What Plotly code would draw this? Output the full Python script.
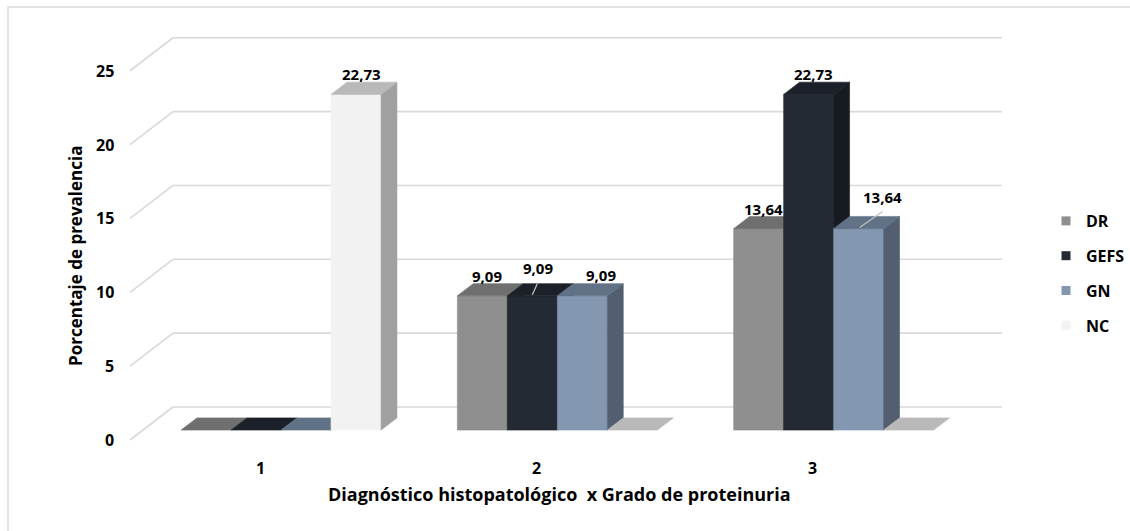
import plotly.graph_objects as go

# ---- data ----
categories = ["1", "2", "3"]
series_names = ["DR", "GEFS", "GN", "NC"]
dr = [0, 9.09, 13.64]
gefs = [0, 9.09, 22.73]
gn = [0, 9.09, 13.64]
nc = [22.73, 0, 0]
y_ticks = [0, 5, 10, 15, 20, 25]

values = [dr, gefs, gn, nc]

# face colours per series: front, top, side
front_colors = ["#8f8f8f", "#232a34", "#8497b0", "#f2f2f2"]
top_colors = ["#6f6f6f", "#1b2029", "#617286", "#b9b9b9"]
side_colors = ["#6b6b6b", "#161b22", "#535f70", "#a0a0a0"]

# ---- oblique 3D geometry (pixels -> axis units) ----
W, H = 1130, 531
FLOOR_LEFT_PX = 130      # left edge of the floor front
FLOOR_BASE_PX = 440      # value 0 on the floor front
CAT_PX = 276.3           # width of one category slot
UNIT_PX = 14.77          # pixels per percentage point
DEPTH_X_PX, DEPTH_Y_PX = 43, 33   # full depth of the floor

DX = DEPTH_X_PX / CAT_PX
DY = DEPTH_Y_PX / UNIT_PX
D_FRONT, D_BACK = 0.30, 0.67      # depth span occupied by the bars
BW = 50 / CAT_PX                  # bar width
GAP = (1 - 4 * BW) / 2

x_range = [0.5 - FLOOR_LEFT_PX / CAT_PX, 0.5 + (W - FLOOR_LEFT_PX) / CAT_PX]
y_range = [-(H - FLOOR_BASE_PX) / UNIT_PX, FLOOR_BASE_PX / UNIT_PX]

GRID = "#d9d9d9"
FONT = "Open Sans"

fig = go.Figure()


def poly(xs, ys, color):
    fig.add_trace(go.Scatter(
        x=xs + [xs[0]], y=ys + [ys[0]], mode="lines", fill="toself",
        fillcolor=color, line=dict(color=color, width=0.6),
        hoverinfo="skip", showlegend=False))


def line(xs, ys, color, width):
    fig.add_trace(go.Scatter(
        x=xs, y=ys, mode="lines", line=dict(color=color, width=width),
        hoverinfo="skip", showlegend=False))


# back wall gridlines and left wall diagonals
x_lo, x_hi = 0.5, len(categories) + 0.5
for t in y_ticks:
    line([x_lo + DX, x_hi + DX], [t + DY, t + DY], GRID, 1.6)
    line([x_lo, x_lo + DX], [t, t + DY], GRID, 1.6)

# bars, painted left to right so nearer faces cover farther ones
for ci in range(len(categories)):
    c = ci + 1
    for si in range(len(series_names)):
        v = values[si][ci]
        xl = c - 0.5 + GAP + si * BW
        xr = xl + BW
        fx0, fx1 = xl + D_FRONT * DX, xr + D_FRONT * DX
        bx0, bx1 = xl + D_BACK * DX, xr + D_BACK * DX
        fy0, by0 = D_FRONT * DY, D_BACK * DY
        if v > 0:
            poly([fx0, fx1, fx1, fx0], [fy0, fy0, v + fy0, v + fy0], front_colors[si])
            poly([fx1, bx1, bx1, fx1], [fy0, by0, v + by0, v + fy0], side_colors[si])
        poly([fx0, fx1, bx1, bx0], [v + fy0, v + fy0, v + by0, v + by0], top_colors[si])

# legend entries
for si, name in enumerate(series_names):
    fig.add_trace(go.Scatter(
        x=[None], y=[None], mode="markers", name=name, legendgroup=name,
        marker=dict(symbol="square", size=9, color=front_colors[si])))

annotations = []

# value labels (offsets in px from the centre of the top face)
label_shift = {(1, 1): (-2, -22), (2, 1): (11, -15), (2, 2): (16, -26)}
leaders = {(1, 1): ((-3, -6), (-8, 5)), (2, 2): ((16, -11), (-7, 5))}
for ci in range(len(categories)):
    c = ci + 1
    for si in range(len(series_names)):
        v = values[si][ci]
        if v <= 0:
            continue
        xc = c - 0.5 + GAP + (si + 0.5) * BW + (D_FRONT + D_BACK) / 2 * DX
        yc = v + (D_FRONT + D_BACK) / 2 * DY
        sx, sy = label_shift.get((si, ci), (-3, -14))
        annotations.append(dict(
            x=xc, y=yc, xref="x", yref="y", text=f"{v:.2f}".replace(".", ","),
            showarrow=False, xshift=sx, yshift=-sy,
            font=dict(family=FONT, size=15, color="#000000", weight="bold")))
        if (si, ci) in leaders:
            (ax, ay), (bx, by) = leaders[(si, ci)]
            line([xc + ax / CAT_PX, xc + bx / CAT_PX],
                 [yc - ay / UNIT_PX, yc - by / UNIT_PX], "#bfbfbf", 1.3)

# value axis tick labels at the front of the left wall
for t in y_ticks:
    annotations.append(dict(
        x=x_lo, y=t, xref="x", yref="y", text=str(t), showarrow=False,
        xanchor="right", yanchor="middle", xshift=-14,
        font=dict(family=FONT, size=16, color="#000000", weight="bold")))

# category labels below the floor
for ci, cat in enumerate(categories):
    annotations.append(dict(
        x=ci + 1, y=0, xref="x", yref="y", text=cat, showarrow=False,
        xanchor="center", yanchor="middle", xshift=-8, yshift=-28,
        font=dict(family=FONT, size=16, color="#000000", weight="bold")))

# axis titles
annotations.append(dict(
    x=559 / W, y=1 - 494 / H, xref="paper", yref="paper",
    xanchor="center", yanchor="middle",
    text="Diagnóstico histopatológico  x Grado de proteinuria", showarrow=False,
    font=dict(family=FONT, size=18, color="#000000", weight="bold")))
annotations.append(dict(
    x=76 / W, y=1 - 256 / H, xref="paper", yref="paper",
    xanchor="center", yanchor="middle",
    text="Porcentaje de prevalencia", showarrow=False, textangle=-90,
    font=dict(family=FONT, size=17, color="#000000", weight="bold")))

fig.update_layout(
    width=W, height=H,
    margin=dict(l=0, r=0, t=0, b=0),
    paper_bgcolor="#ffffff", plot_bgcolor="#ffffff",
    xaxis=dict(range=x_range, visible=False, fixedrange=True),
    yaxis=dict(range=y_range, visible=False, fixedrange=True),
    showlegend=True,
    legend=dict(x=1046 / W, y=1 - 204 / H, xanchor="left", yanchor="top",
                tracegroupgap=11, bgcolor="rgba(0,0,0,0)",
                font=dict(family=FONT, size=16, color="#000000", weight="bold")),
    annotations=annotations,
    shapes=[dict(type="rect", xref="paper", yref="paper",
                 x0=8 / W, x1=1.02, y0=-0.05, y1=1 - 7 / H,
                 line=dict(color=GRID, width=1.5), fillcolor="rgba(0,0,0,0)",
                 layer="below")],
)

fig.write_html("out.html")
